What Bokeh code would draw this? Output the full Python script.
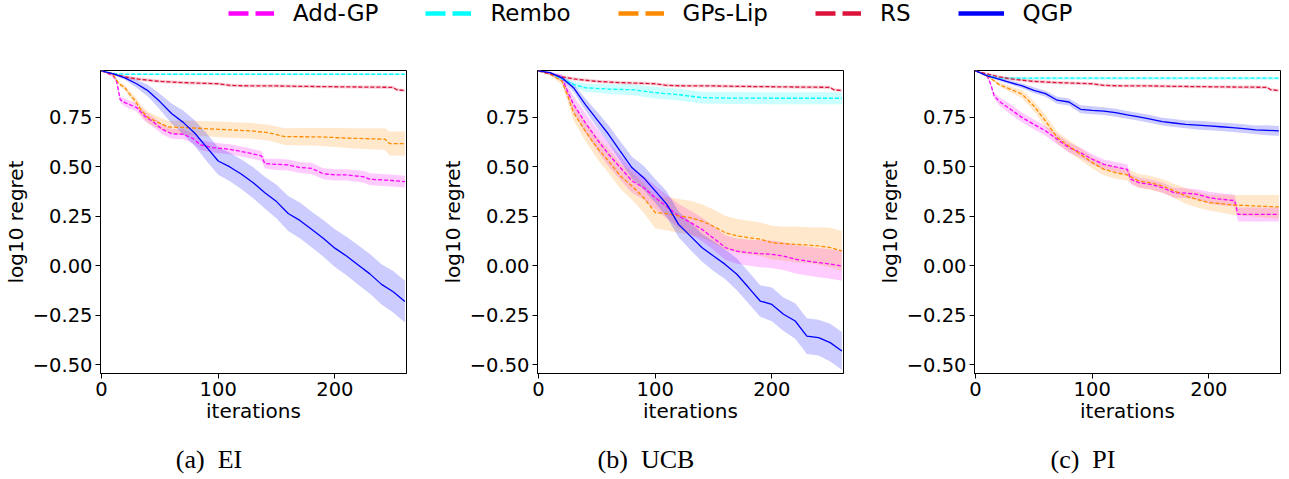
from bokeh.plotting import figure
from bokeh.models import (ColumnDataSource, Range1d, FixedTicker, CustomJSTickFormatter,
                          Legend, LegendItem)
from bokeh.layouts import column, row
from bokeh.embed import file_html
from bokeh.resources import INLINE
from bokeh.core.properties import value

# ---------------- data ----------------
NAMES = ["Add-GP", "Rembo", "GPs-Lip", "RS", "QGP"]
COLORS = ["#ff00ff", "#00ffff", "#ff8c00", "#dc143c", "#0000ff"]
CAPTIONS = ["(a)\u00a0 EI", "(b)\u00a0 UCB", "(c)\u00a0 PI"]
X_TICKS = [0, 100, 200]
Y_TICKS = [-0.5, -0.25, 0.0, 0.25, 0.5, 0.75]

GRID10 = [0, 10, 20, 30, 40, 50, 60, 70, 80, 90, 100, 110, 120, 130, 140, 150, 160,
          170, 180, 190, 200, 210, 220, 230, 240, 250, 260]
GRID10_25 = [0, 10, 20, 25, 30, 40, 50, 60, 70, 80, 90, 100, 110, 120, 130, 140, 150, 160,
             170, 180, 190, 200, 210, 220, 230, 240, 250, 260]

# random search (same in all three panels)
RS_X = [0, 10, 20, 30, 40, 50, 70, 100, 110, 120, 150, 170, 200, 230, 250, 253, 260]
RS_Y = [0.985, 0.970, 0.955, 0.945, 0.938, 0.932, 0.926, 0.920, 0.912, 0.910, 0.909, 0.907,
        0.905, 0.903, 0.902, 0.890, 0.886]
RS_E = [0.0, 0.006, 0.008, 0.008, 0.008, 0.008, 0.008, 0.008, 0.008, 0.008, 0.008, 0.008,
        0.008, 0.008, 0.008, 0.008, 0.008]

# (a) EI
EI_ADD_X = [0, 10, 13, 16, 20, 30, 37, 45, 52, 60, 70, 78, 85, 95, 110, 125, 137, 140, 150,
            160, 170, 180, 190, 200, 210, 225, 230, 245, 260]
EI_ADD_Y = [0.985, 0.960, 0.930, 0.840, 0.825, 0.800, 0.757, 0.724, 0.690, 0.668, 0.665,
            0.645, 0.611, 0.598, 0.589, 0.572, 0.556, 0.517, 0.513, 0.510, 0.497, 0.493,
            0.466, 0.460, 0.460, 0.450, 0.438, 0.433, 0.426]
EI_ADD_E = [0.0, 0.005, 0.01, 0.015, 0.02, 0.02, 0.025, 0.025, 0.025, 0.025, 0.025, 0.025,
            0.025, 0.025, 0.025, 0.025, 0.025, 0.025, 0.028, 0.028, 0.028, 0.028, 0.028,
            0.028, 0.028, 0.03, 0.03, 0.03, 0.03]
EI_REM_X = [0, 10, 20, 260]
EI_REM_Y = [0.985, 0.972, 0.968, 0.968]
EI_REM_E = [0.0, 0.003, 0.004, 0.004]
EI_LIP_X = [0, 10, 15, 20, 23, 29, 34, 40, 49, 57, 71, 100, 129, 143, 157, 186, 214, 243,
            247, 260]
EI_LIP_Y = [0.985, 0.965, 0.920, 0.900, 0.875, 0.833, 0.786, 0.749, 0.724, 0.702, 0.699,
            0.690, 0.682, 0.673, 0.653, 0.652, 0.645, 0.640, 0.618, 0.618]
EI_LIP_E = [0.0, 0.005, 0.01, 0.012, 0.015, 0.02, 0.025, 0.03, 0.03, 0.03, 0.035, 0.04,
            0.04, 0.04, 0.042, 0.045, 0.05, 0.055, 0.06, 0.062]
EI_QGP_Y = [0.985, 0.970, 0.950, 0.920, 0.884, 0.830, 0.770, 0.725, 0.670, 0.600, 0.530,
            0.500, 0.463, 0.420, 0.370, 0.325, 0.265, 0.230, 0.185, 0.140, 0.090, 0.050,
            0.005, -0.040, -0.093, -0.130, -0.180]
EI_QGP_E = [0.0, 0.005, 0.01, 0.02, 0.03, 0.04, 0.05, 0.06, 0.065, 0.07, 0.07, 0.072, 0.075,
            0.078, 0.08, 0.085, 0.088, 0.09, 0.09, 0.092, 0.095, 0.097, 0.1, 0.1, 0.102,
            0.105, 0.105]

# (b) UCB
UCB_ADD_Y = [0.985, 0.970, 0.950, 0.880, 0.816, 0.724, 0.640, 0.564, 0.497, 0.430, 0.396,
             0.345, 0.300, 0.253, 0.220, 0.185, 0.140, 0.093, 0.075, 0.067, 0.062, 0.059,
             0.050, 0.034, 0.025, 0.017, 0.010, 0.000]
UCB_ADD_E = [0.0, 0.005, 0.02, 0.03, 0.04, 0.05, 0.055, 0.06, 0.06, 0.06, 0.06, 0.06, 0.06,
             0.06, 0.06, 0.06, 0.06, 0.062, 0.064, 0.066, 0.068, 0.07, 0.07, 0.072, 0.073,
             0.074, 0.075, 0.075]
UCB_REM_X = [0, 10, 20, 30, 40, 60, 80, 100, 120, 140, 160, 200, 260]
UCB_REM_Y = [0.985, 0.970, 0.945, 0.917, 0.900, 0.893, 0.890, 0.875, 0.865, 0.850, 0.848,
             0.847, 0.847]
UCB_REM_E = [0.0, 0.005, 0.01, 0.015, 0.02, 0.025, 0.028, 0.03, 0.03, 0.03, 0.03, 0.03, 0.03]
UCB_LIP_Y = [0.985, 0.968, 0.934, 0.860, 0.774, 0.682, 0.598, 0.530, 0.455, 0.404, 0.345,
             0.270, 0.264, 0.253, 0.244, 0.227, 0.200, 0.168, 0.152, 0.143, 0.135, 0.118,
             0.113, 0.109, 0.106, 0.101, 0.093, 0.076]
UCB_LIP_E = [0.0, 0.005, 0.02, 0.03, 0.04, 0.05, 0.055, 0.06, 0.065, 0.07, 0.075, 0.08,
             0.085, 0.085, 0.085, 0.085, 0.085, 0.085, 0.085, 0.085, 0.085, 0.085, 0.085,
             0.09, 0.09, 0.095, 0.1, 0.1]
UCB_QGP_Y = [0.985, 0.976, 0.950, 0.900, 0.816, 0.740, 0.665, 0.580, 0.497, 0.446, 0.379,
             0.311, 0.210, 0.152, 0.093, 0.050, 0.008, -0.042, -0.109, -0.177, -0.194,
             -0.244, -0.278, -0.354, -0.362, -0.387, -0.429]
UCB_QGP_E = [0.0, 0.005, 0.01, 0.02, 0.03, 0.04, 0.045, 0.05, 0.055, 0.06, 0.06, 0.065,
             0.065, 0.07, 0.07, 0.075, 0.075, 0.08, 0.08, 0.08, 0.085, 0.085, 0.09, 0.09,
             0.09, 0.095, 0.095]

# (c) PI
PI_ADD_X = [0, 10, 13, 16, 20, 30, 40, 50, 60, 70, 80, 90, 100, 110, 120, 130, 133, 140,
            150, 160, 170, 180, 190, 200, 210, 222, 225, 240, 260]
PI_ADD_Y = [0.985, 0.960, 0.917, 0.859, 0.833, 0.791, 0.749, 0.715, 0.682, 0.640, 0.598,
            0.572, 0.539, 0.513, 0.500, 0.488, 0.438, 0.421, 0.412, 0.396, 0.370, 0.368,
            0.362, 0.345, 0.337, 0.330, 0.260, 0.260, 0.260]
PI_ADD_E = [0.0, 0.005, 0.01, 0.015, 0.02, 0.025, 0.025, 0.025, 0.025, 0.025, 0.025, 0.025,
            0.025, 0.025, 0.025, 0.025, 0.025, 0.025, 0.025, 0.025, 0.025, 0.025, 0.025,
            0.03, 0.03, 0.03, 0.035, 0.035, 0.035]
PI_REM_X = [0, 10, 20, 260]
PI_REM_Y = [0.985, 0.965, 0.948, 0.948]
PI_REM_E = [0.0, 0.005, 0.008, 0.008]
PI_LIP_X = [0, 10, 20, 30, 40, 50, 60, 70, 80, 90, 100, 110, 120, 130, 140, 150, 160, 170,
            180, 190, 200, 210, 220, 240, 260]
PI_LIP_Y = [0.985, 0.960, 0.917, 0.892, 0.867, 0.808, 0.732, 0.648, 0.606, 0.564, 0.522,
            0.488, 0.471, 0.460, 0.429, 0.420, 0.404, 0.380, 0.354, 0.335, 0.320, 0.315,
            0.308, 0.303, 0.298]
PI_LIP_E = [0.0, 0.005, 0.01, 0.015, 0.02, 0.025, 0.03, 0.03, 0.03, 0.03, 0.03, 0.03, 0.03,
            0.03, 0.035, 0.035, 0.035, 0.035, 0.04, 0.04, 0.04, 0.045, 0.05, 0.055, 0.06]
PI_QGP_Y = [0.985, 0.960, 0.943, 0.926, 0.909, 0.887, 0.870, 0.837, 0.828, 0.791, 0.786,
            0.782, 0.774, 0.763, 0.753, 0.742, 0.729, 0.722, 0.715, 0.711, 0.707, 0.703,
            0.699, 0.693, 0.687, 0.685, 0.682]
PI_QGP_E = [0.0, 0.005, 0.008, 0.01, 0.012, 0.015, 0.015, 0.018, 0.018, 0.02, 0.02, 0.02,
            0.02, 0.02, 0.02, 0.02, 0.02, 0.02, 0.02, 0.022, 0.022, 0.022, 0.022, 0.022,
            0.022, 0.025, 0.025]

PANELS = [
    [(EI_ADD_X, EI_ADD_Y, EI_ADD_E), (EI_REM_X, EI_REM_Y, EI_REM_E),
     (EI_LIP_X, EI_LIP_Y, EI_LIP_E), (RS_X, RS_Y, RS_E), (GRID10, EI_QGP_Y, EI_QGP_E)],
    [(GRID10_25, UCB_ADD_Y, UCB_ADD_E), (UCB_REM_X, UCB_REM_Y, UCB_REM_E),
     (GRID10_25, UCB_LIP_Y, UCB_LIP_E), (RS_X, RS_Y, RS_E), (GRID10, UCB_QGP_Y, UCB_QGP_E)],
    [(PI_ADD_X, PI_ADD_Y, PI_ADD_E), (PI_REM_X, PI_REM_Y, PI_REM_E),
     (PI_LIP_X, PI_LIP_Y, PI_LIP_E), (RS_X, RS_Y, RS_E), (GRID10, PI_QGP_Y, PI_QGP_E)],
]

# ---------------- layout ----------------
FRAME_W, FRAME_H = 306, 303
LEFTS = [99, 126, 126]
RIGHTS = [5, 5, 4]
TOP, BOTTOM = 40, 58
LEG_H, CAP_H = 30, 48
TOTAL_W = sum(l + FRAME_W + r for l, r in zip(LEFTS, RIGHTS))

FONT = "DejaVu Sans"


def make_panel(series, left, right):
    p = figure(frame_width=FRAME_W, frame_height=FRAME_H,
               x_range=Range1d(-0.9, 261.4), y_range=Range1d(-0.543, 0.987),
               output_backend="svg", toolbar_location=None,
               min_border_left=left, min_border_right=right,
               min_border_top=TOP, min_border_bottom=BOTTOM)
    p.grid.visible = False
    p.outline_line_color = "black"
    p.outline_line_width = 1
    p.background_fill_color = "white"
    p.border_fill_color = "white"
    for (xs, ys, es), c in zip(series, COLORS):
        src = ColumnDataSource(dict(x=xs, lo=[y - e for y, e in zip(ys, es)],
                                    hi=[y + e for y, e in zip(ys, es)]))
        p.varea(x="x", y1="lo", y2="hi", source=src, fill_color=c, fill_alpha=0.2)
    for (xs, ys, es), c, name in zip(series, COLORS, NAMES):
        dash = "solid" if name == "QGP" else "4 2"
        p.line(xs, ys, line_color=c, line_width=1.3, line_dash=dash)

    p.xaxis.ticker = FixedTicker(ticks=X_TICKS)
    p.yaxis.ticker = FixedTicker(ticks=Y_TICKS)
    p.yaxis.formatter = CustomJSTickFormatter(
        code="return tick.toFixed(2).replace('-', '\\u2212');")
    p.xaxis.axis_label = "iterations"
    p.yaxis.axis_label = "log10 regret"
    for ax in (p.xaxis, p.yaxis):
        ax.major_label_text_font = FONT
        ax.major_label_text_font_size = "19.5px"
        ax.major_label_text_color = "black"
        ax.axis_label_text_font = FONT
        ax.axis_label_text_font_size = "20px"
        ax.axis_label_text_font_style = "normal"
        ax.axis_label_text_color = "black"
        ax.minor_tick_line_color = None
        ax.major_tick_in = 0
        ax.major_tick_out = 5
        ax.major_tick_line_color = "black"
        ax.axis_line_color = "black"
        ax.major_label_standoff = 3
    p.yaxis.axis_label_standoff = 2
    p.xaxis.axis_label_standoff = 0
    return p


panels = [make_panel(s, l, r) for s, l, r in zip(PANELS, LEFTS, RIGHTS)]

# legend strip
NAN = float("nan")
leg = figure(width=TOTAL_W, height=LEG_H, output_backend="svg", toolbar_location=None,
             min_border=0, x_range=Range1d(0, 1), y_range=Range1d(0, 1))
leg.axis.visible = False
leg.grid.visible = False
leg.outline_line_color = None
items = []
for name, c in zip(NAMES, COLORS):
    dash = "solid" if name == "QGP" else "20 7"
    r = leg.line(x=[NAN], y=[NAN], line_color=c, line_width=4.5, line_dash=dash)
    items.append(LegendItem(label=name, renderers=[r]))
legend = Legend(items=items, orientation="horizontal", location=(228, 4),
                label_text_font=FONT, label_text_font_size="23px", label_text_color="black",
                glyph_width=46, glyph_height=20, label_standoff=19, spacing=47,
                padding=0, margin=0, border_line_alpha=0, background_fill_alpha=0)
leg.add_layout(legend, "center")

# caption strip
cap = figure(width=TOTAL_W, height=CAP_H, output_backend="svg", toolbar_location=None,
             min_border=0, x_range=Range1d(0, TOTAL_W), y_range=Range1d(0, CAP_H))
cap.axis.visible = False
cap.grid.visible = False
cap.outline_line_color = None
frame_lefts = []
acc = 0
for l, r in zip(LEFTS, RIGHTS):
    frame_lefts.append(acc + l)
    acc += l + FRAME_W + r
cap.text(x=[fl + 109.5 for fl in frame_lefts], y=[CAP_H - 28] * 3, text=CAPTIONS,
         text_font=value("Liberation Serif"), text_font_size="26px",
         text_align="center", text_baseline="middle", text_color="black")

layout = column(leg, row(*panels), cap)
open("out.html", "w").write(file_html(layout, INLINE))
